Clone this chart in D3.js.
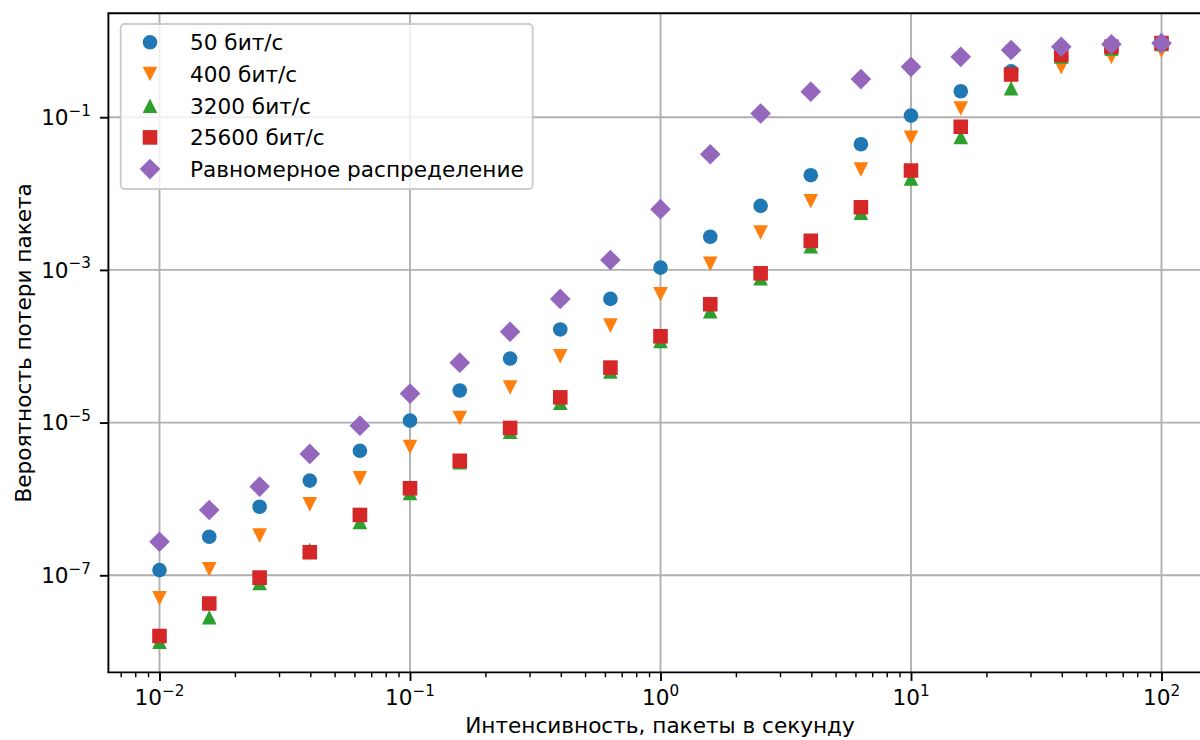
<!DOCTYPE html>
<html><head><meta charset="utf-8">
<script src="https://cdn.jsdelivr.net/npm/d3@7"></script>
<style>body{margin:0;background:#fff} text{font-family:"DejaVu Sans",sans-serif;fill:#000}</style>
</head><body><svg id="c" width="1200" height="740"></svg>
<script>
// Intensity, packets per second
const intensity = [0.01, 0.0158, 0.0251, 0.0398, 0.0631, 0.1, 0.158, 0.251, 0.398, 0.631, 1, 1.58, 2.51, 3.98, 6.31, 10, 15.8, 25.1, 39.8, 63.1, 100];
const seriesNames = ["50 бит/с", "400 бит/с", "3200 бит/с", "25600 бит/с", "Равномерное распределение"];
const loss50 = [1.17e-7, 3.2e-7, 7.9e-7, 1.74e-6, 4.27e-6, 1.06e-5, 2.63e-5, 6.9e-5, 1.66e-4, 4.17e-4, 1.07e-3, 2.72e-3, 6.9e-3, 1.74e-2, 4.42e-2, 0.105, 0.219, 0.398, 0.603, 0.759, 0.881];
const loss400 = [5.0e-8, 1.2e-7, 3.31e-7, 8.5e-7, 1.86e-6, 4.79e-6, 1.15e-5, 2.88e-5, 7.41e-5, 1.86e-4, 4.79e-4, 1.2e-3, 3.09e-3, 7.94e-3, 2.07e-2, 5.37e-2, 0.130, 0.339, 0.452, 0.617, 0.741];
const loss3200 = [1.35e-8, 2.82e-8, 7.94e-8, 2.14e-7, 5.01e-7, 1.2e-6, 3.02e-6, 7.59e-6, 1.82e-5, 4.68e-5, 1.17e-4, 2.88e-4, 7.76e-4, 2.04e-3, 5.62e-3, 1.58e-2, 5.5e-2, 0.240, 0.624, 0.794, 0.912];
const loss25600 = [1.6e-8, 4.27e-8, 9.33e-8, 2.0e-7, 6.17e-7, 1.38e-6, 3.16e-6, 8.51e-6, 2.14e-5, 5.25e-5, 1.35e-4, 3.55e-4, 9.02e-4, 2.4e-3, 6.61e-3, 2.0e-2, 7.5e-2, 0.363, 0.653, 0.838, 0.933];
const lossUniform = [2.75e-7, 7.16e-7, 1.45e-6, 3.89e-6, 9.12e-6, 2.4e-5, 6.1e-5, 1.55e-4, 4.17e-4, 1.35e-3, 6.24e-3, 3.27e-2, 0.112, 0.216, 0.316, 0.457, 0.617, 0.759, 0.838, 0.902, 0.933];
const xTickExps = [-2, -1, 0, 1, 2];
const yTickExps = [-7, -5, -3, -1];
const xLabel = "Интенсивность, пакеты в секунду";
const yLabel = "Вероятность потери пакета";

const colors = ["#1f77b4", "#ff7f0e", "#2ca02c", "#d62728", "#9467bd"];
const shapes = ["circle", "tdown", "tup", "square", "diamond"];
const allSeries = [loss50, loss400, loss3200, loss25600, lossUniform];

const L = 108.4, R = 1212.6, T = 13.3, B = 672.4;
const FS = 21.6, SFS = 15.2;
const x = d3.scaleLog().domain([Math.pow(10, -2.204), Math.pow(10, 2.204)]).range([L, R]);
const y = d3.scaleLog().domain([Math.pow(10, -8.272), Math.pow(10, 0.361)]).range([B, T]);

const svg = d3.select("#c");
const h = 7.3;
function markerPath(s) {
  if (s === "circle") return d3.arc()({innerRadius:0, outerRadius:h, startAngle:0, endAngle:2*Math.PI});
  if (s === "square") return `M${-h},${-h}H${h}V${h}H${-h}Z`;
  if (s === "tdown") return `M0,${h}L${-h},${-h}L${h},${-h}Z`;
  if (s === "tup") return `M0,${-h}L${-h},${h}L${h},${h}Z`;
  const d = h * 1.414;
  return `M0,${-d}L${d},0L0,${d}L${-d},0Z`;
}

// grid
const grid = svg.append("g").attr("stroke", "#b0b0b0").attr("stroke-width", 1.9);
xTickExps.forEach(e => grid.append("line").attr("x1", x(Math.pow(10, e))).attr("x2", x(Math.pow(10, e))).attr("y1", T).attr("y2", B));
yTickExps.forEach(e => grid.append("line").attr("y1", y(Math.pow(10, e))).attr("y2", y(Math.pow(10, e))).attr("x1", L).attr("x2", R));

// markers
svg.append("clipPath").attr("id", "pc").append("rect").attr("x", L).attr("y", T).attr("width", R - L).attr("height", B - T);
const plot = svg.append("g").attr("clip-path", "url(#pc)");
allSeries.forEach((vals, si) => {
  plot.append("g").selectAll("path").data(vals).join("path")
    .attr("d", markerPath(shapes[si]))
    .attr("transform", (v, i) => `translate(${x(intensity[i])},${y(v)})`)
    .attr("fill", colors[si]);
});

// axes
const xAxis = d3.axisBottom(x).tickValues(xTickExps.map(e => Math.pow(10, e))).tickSize(8.5).tickFormat("");
const gx = svg.append("g").attr("transform", `translate(0,${B})`).call(xAxis);
const minor = [];
for (let e = -3; e <= 2; e++) for (let m = 2; m <= 9; m++) { const v = m * Math.pow(10, e); if (v > x.domain()[0] && v < x.domain()[1]) minor.push(v); }
const xMinor = d3.axisBottom(x).tickValues(minor).tickSize(4.8).tickFormat("");
const gxm = svg.append("g").attr("transform", `translate(0,${B})`).call(xMinor);
gxm.select(".domain").remove();
gxm.selectAll("line").attr("stroke-width", 1.45);
const yAxis = d3.axisLeft(y).tickValues(yTickExps.map(e => Math.pow(10, e))).tickSize(8.5).tickFormat("");
const gy = svg.append("g").attr("transform", `translate(${L},0)`).call(yAxis);
[gx, gy].forEach(g => { g.select(".domain").remove(); g.selectAll("line").attr("stroke-width", 1.9); });

// spines
svg.append("line").attr("x1", L).attr("x2", L).attr("y1", T).attr("y2", B).attr("stroke", "#000").attr("stroke-width", 1.9);
svg.append("line").attr("x1", L - 1).attr("x2", R).attr("y1", B).attr("y2", B).attr("stroke", "#000").attr("stroke-width", 1.9);
svg.append("line").attr("x1", L - 1).attr("x2", R).attr("y1", T).attr("y2", T).attr("stroke", "#000").attr("stroke-width", 1.9);

function powLabel(g, e, px, py, anchor) {
  const t = g.append("text").attr("x", px).attr("y", py).attr("text-anchor", anchor).attr("font-size", FS);
  t.append("tspan").text("10");
  t.append("tspan").attr("dy", -9.5).attr("font-size", SFS).text(String(e).replace("-", "\u2212"));
}
xTickExps.forEach(e => powLabel(svg, e, x(Math.pow(10, e)), 705, "middle"));
yTickExps.forEach(e => powLabel(svg, e, 91, y(Math.pow(10, e)) + 7.8, "end"));

svg.append("text").attr("x", 660).attr("y", 733).attr("text-anchor", "middle").attr("font-size", FS).text(xLabel);
svg.append("text").attr("transform", `translate(31,${(T + B) / 2}) rotate(-90)`).attr("text-anchor", "middle").attr("font-size", FS).text(yLabel);

// legend
const lg = svg.append("g");
lg.append("rect").attr("x", 120.7).attr("y", 24).attr("width", 412).attr("height", 165).attr("rx", 4)
  .attr("fill", "#fff").attr("fill-opacity", 0.8).attr("stroke", "#cccccc").attr("stroke-width", 1.9);
seriesNames.forEach((n, i) => {
  const cy = 42.3 + i * 31.7;
  lg.append("path").attr("d", markerPath(shapes[i])).attr("transform", `translate(150,${cy})`).attr("fill", colors[i]);
  lg.append("text").attr("x", 190).attr("y", cy + 7.8).attr("font-size", FS).text(n);
});
</script></body></html>
